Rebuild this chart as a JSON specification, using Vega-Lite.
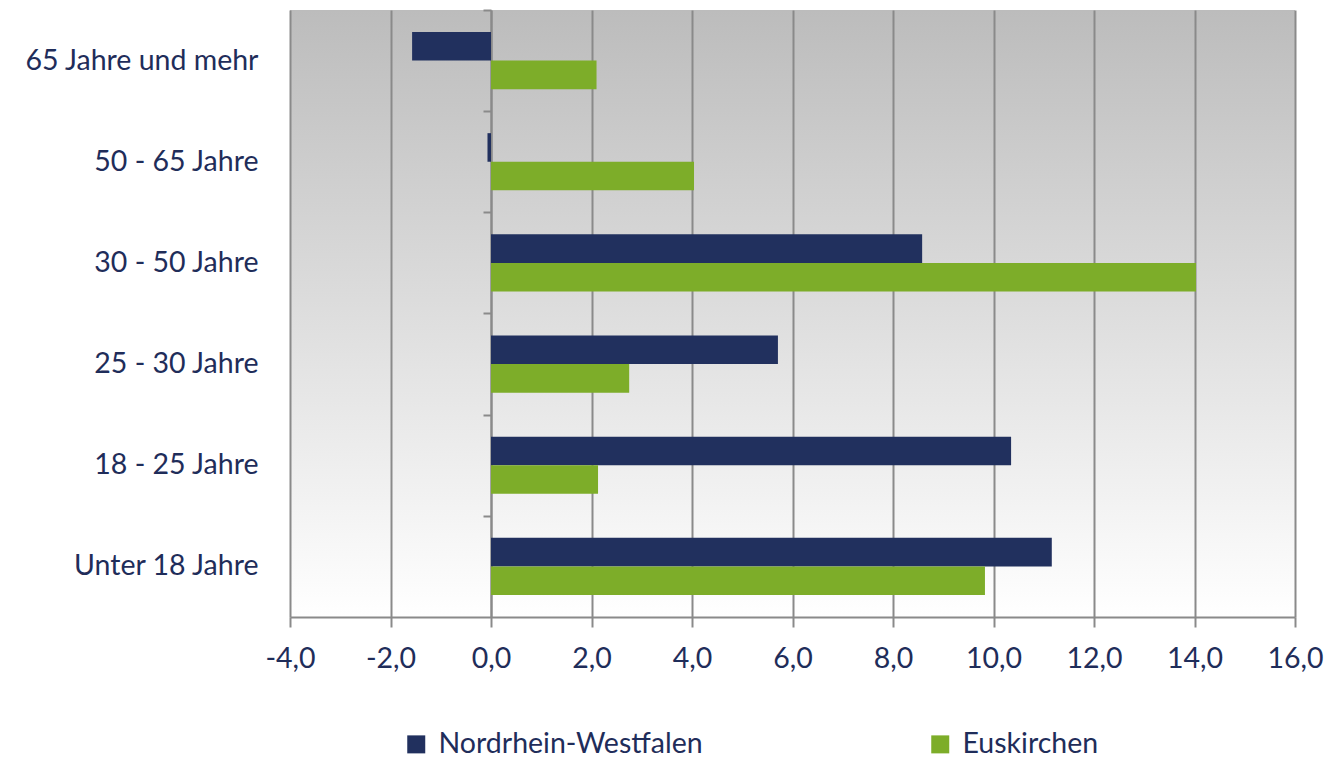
{
  "$schema": "https://vega.github.io/schema/vega-lite/v6.json",
  "width": 1005,
  "height": 607,
  "autosize": {"type": "none"},
  "padding": {"left": 290, "top": 10, "right": 33, "bottom": 142},
  "data": {
    "values": [
      {"group": "65 Jahre und mehr", "region": "Nordrhein-Westfalen", "value": -1.57},
      {"group": "65 Jahre und mehr", "region": "Euskirchen", "value": 2.1},
      {"group": "50 - 65 Jahre", "region": "Nordrhein-Westfalen", "value": -0.07},
      {"group": "50 - 65 Jahre", "region": "Euskirchen", "value": 4.04},
      {"group": "30 - 50 Jahre", "region": "Nordrhein-Westfalen", "value": 8.58},
      {"group": "30 - 50 Jahre", "region": "Euskirchen", "value": 14.03},
      {"group": "25 - 30 Jahre", "region": "Nordrhein-Westfalen", "value": 5.71},
      {"group": "25 - 30 Jahre", "region": "Euskirchen", "value": 2.75},
      {"group": "18 - 25 Jahre", "region": "Nordrhein-Westfalen", "value": 10.35},
      {"group": "18 - 25 Jahre", "region": "Euskirchen", "value": 2.13},
      {"group": "Unter 18 Jahre", "region": "Nordrhein-Westfalen", "value": 11.16},
      {"group": "Unter 18 Jahre", "region": "Euskirchen", "value": 9.83}
    ]
  },
  "layer": [
    {
      "mark": {"type": "bar"},
      "encoding": {
        "y": {
          "field": "group",
          "type": "nominal",
          "sort": ["65 Jahre und mehr", "50 - 65 Jahre", "30 - 50 Jahre", "25 - 30 Jahre", "18 - 25 Jahre", "Unter 18 Jahre"],
          "scale": {"paddingInner": 0.435, "paddingOuter": 0.2175},
          "axis": {
            "title": null,
            "domain": false,
            "ticks": false,
            "grid": false,
            "labelPadding": 32,
            "labelLimit": 0,
            "labelFontSize": 28.5,
            "labelFont": "Lato",
            "labelColor": "#1f2d5a"
          }
        },
        "x": {
          "field": "value",
          "type": "quantitative",
          "scale": {"domain": [-4, 16], "nice": false, "zero": false},
          "axis": {
            "title": null,
            "values": [-4, -2, 0, 2, 4, 6, 8, 10, 12, 14, 16],
            "labelExpr": "replace(replace(format(datum.value, '.1f'), '.', ','), '\u2212', '-')",
            "labelFlush": false,
            "labelOverlap": false,
            "grid": true,
            "gridColor": "#8a8a8a",
            "gridWidth": 2,
            "domainColor": "#8a8a8a",
            "domainWidth": 2,
            "tickColor": "#8a8a8a",
            "tickWidth": 2,
            "tickSize": 10,
            "labelPadding": 17,
            "labelFontSize": 28.5,
            "labelFont": "Lato",
            "labelColor": "#1f2d5a"
          }
        },
        "yOffset": {"field": "region", "type": "nominal", "sort": ["Nordrhein-Westfalen", "Euskirchen"]},
        "color": {
          "field": "region",
          "type": "nominal",
          "sort": ["Nordrhein-Westfalen", "Euskirchen"],
          "scale": {"domain": ["Nordrhein-Westfalen", "Euskirchen"], "range": ["#21305e", "#7dad29"]},
          "legend": {
            "title": null,
            "orient": "none",
            "direction": "horizontal",
            "legendX": 112,
            "legendY": 720,
            "symbolType": "square",
            "symbolSize": 324,
            "symbolStrokeWidth": 0,
            "symbolOpacity": 1,
            "labelFontSize": 28.5,
            "labelFont": "Lato",
            "labelColor": "#1f2d5a",
            "labelLimit": 0,
            "labelOffset": 8,
            "columnPadding": 223
          }
        }
      }
    },
    {
      "mark": {"type": "rule", "opacity": 0},
      "encoding": {
        "y": {
          "field": "group",
          "type": "nominal",
          "sort": ["65 Jahre und mehr", "50 - 65 Jahre", "30 - 50 Jahre", "25 - 30 Jahre", "18 - 25 Jahre", "Unter 18 Jahre"],
          "axis": {
            "title": null,
            "orient": "left",
            "offset": -201,
            "labels": false,
            "grid": false,
            "tickBand": "center",
            "tickOffset": -50.6,
            "domain": true,
            "domainColor": "#8a8a8a",
            "domainWidth": 2,
            "tickColor": "#8a8a8a",
            "tickWidth": 2,
            "tickSize": 8
          }
        }
      }
    }
  ],
  "resolve": {"axis": {"y": "independent"}},
  "config": {
    "view": {
      "stroke": null,
      "fill": {
        "gradient": "linear",
        "x1": 0, "y1": 0, "x2": 0, "y2": 1,
        "stops": [
          {"offset": 0, "color": "#bcbcbc"},
          {"offset": 1, "color": "#ffffff"}
        ]
      }
    }
  }
}
